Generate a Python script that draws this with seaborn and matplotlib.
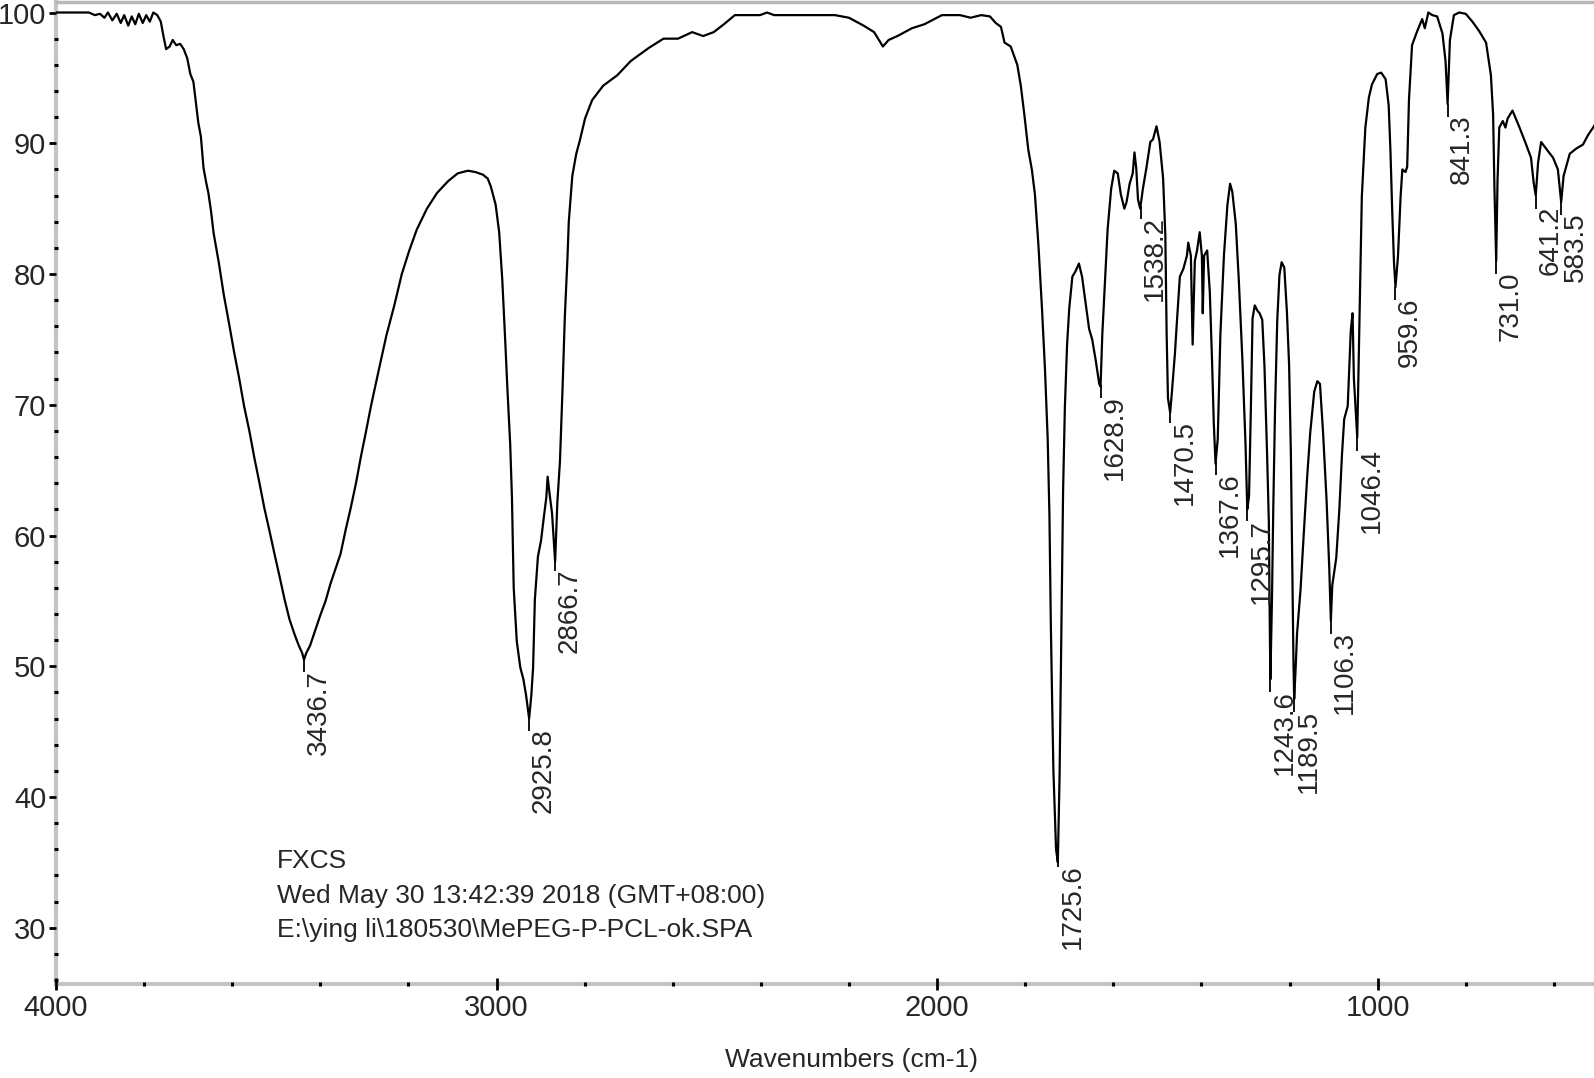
import matplotlib
matplotlib.use("Agg")
import matplotlib.pyplot as plt
import numpy as np
import pandas as pd
import seaborn as sns
from matplotlib.ticker import MultipleLocator

sns.set_style("white")
plt.rcParams["font.family"] = ["Liberation Sans", "DejaVu Sans"]

# spectrum (cm-1, %T)
wavenumbers = [
    4000, 3960, 3925, 3912, 3900, 3890, 3882, 3872, 3862, 3853, 3845, 3836, 3828, 3820,
    3812, 3803, 3795, 3787, 3779, 3770, 3762, 3756, 3750, 3742, 3735, 3727, 3718, 3710,
    3702, 3695, 3688, 3682, 3677, 3671, 3665, 3659, 3654, 3648, 3642, 3630, 3619, 3607,
    3596, 3584, 3573, 3561, 3550, 3538, 3527, 3515, 3504, 3492, 3481, 3470, 3458, 3449,
    3441, 3437, 3432, 3423, 3412, 3400, 3388, 3377, 3365, 3354, 3342, 3331, 3319, 3308,
    3296, 3285, 3267, 3250, 3232, 3215, 3198, 3181, 3158, 3135, 3110, 3088, 3065, 3048,
    3031, 3020, 3013, 3002, 2994, 2987, 2980, 2975, 2969, 2965, 2961, 2954, 2946, 2939,
    2933, 2926, 2921, 2917, 2913, 2906, 2899, 2893, 2887, 2884, 2880, 2874, 2867, 2862,
    2856, 2850, 2845, 2839, 2836, 2828, 2819, 2811, 2799, 2783, 2758, 2726, 2695, 2654,
    2621, 2588, 2556, 2531, 2507, 2484, 2459, 2402, 2386, 2370, 2232, 2200, 2167, 2143,
    2123, 2110, 2090, 2057, 2029, 1989, 1948, 1924, 1900, 1880, 1867, 1855, 1847, 1833,
    1818, 1810, 1802, 1793, 1785, 1778, 1770, 1762, 1755, 1749, 1745, 1742, 1739, 1736,
    1730, 1726, 1722, 1718, 1714, 1710, 1705, 1700, 1693, 1686, 1678, 1671, 1663, 1655,
    1648, 1640, 1632, 1629, 1625, 1619, 1613, 1605, 1598, 1590, 1583, 1575, 1570, 1563,
    1556, 1552, 1548, 1544, 1539, 1533, 1525, 1516, 1510, 1502, 1495, 1487, 1482, 1479,
    1476, 1471, 1467, 1460, 1456, 1449, 1441, 1433, 1430, 1424, 1420, 1415, 1410, 1404,
    1399, 1397, 1394, 1387, 1381, 1376, 1372, 1368, 1363, 1357, 1349, 1341, 1335, 1330,
    1322, 1315, 1307, 1300, 1296, 1292, 1288, 1284, 1279, 1273, 1268, 1262, 1257, 1251,
    1247, 1245, 1243.6, 1240, 1237, 1233, 1228, 1223, 1218, 1212, 1206, 1201, 1197, 1194,
    1191, 1189.5, 1186, 1183, 1175, 1168, 1160, 1153, 1144, 1137, 1131, 1124, 1116, 1110,
    1106.3, 1103, 1094, 1087, 1081, 1076, 1068, 1061, 1057, 1054, 1049, 1046.4, 1043, 1039,
    1036, 1028, 1020, 1013, 1001, 992, 982, 975, 971, 967, 963, 959.6, 954, 948,
    944, 937, 933, 929, 922, 910, 899, 893, 885, 876, 865, 853, 846, 841.3,
    836, 827, 815, 800, 785, 770, 754, 743, 738, 735, 731, 728, 724, 716,
    710, 705, 694, 678, 663, 652, 646, 641.2, 636, 629, 618, 602, 591, 583.5,
    578, 564, 549, 534, 523, 511, 500,
]
transmittance = [
    100.0, 100.0, 100.0, 99.8, 99.9, 99.6, 100.0, 99.4, 99.9, 99.2, 99.8, 99.0, 99.7, 99.1,
    99.9, 99.2, 99.8, 99.3, 100.0, 99.8, 99.3, 98.2, 97.2, 97.4, 97.9, 97.5, 97.6, 97.2,
    96.5, 95.3, 94.7, 93.0, 91.6, 90.5, 88.1, 87.0, 86.2, 84.8, 83.1, 80.8, 78.4, 76.2,
    74.1, 72.0, 69.9, 68.0, 66.0, 64.0, 62.1, 60.3, 58.6, 56.8, 55.1, 53.6, 52.4, 51.6,
    51.0, 50.5, 51.0, 51.6, 52.7, 53.9, 55.0, 56.3, 57.5, 58.6, 60.5, 62.1, 64.0, 66.0,
    68.0, 69.9, 72.7, 75.3, 77.6, 80.0, 81.8, 83.4, 85.0, 86.2, 87.1, 87.7, 87.9, 87.8,
    87.6, 87.3, 86.7, 85.3, 83.2, 79.6, 74.7, 71.0, 67.0, 62.9, 56.0, 51.9, 49.9, 49.0,
    47.8, 46.0, 47.8, 49.9, 55.1, 58.4, 59.6, 61.3, 62.9, 64.5, 63.3, 61.7, 58.0, 62.5,
    65.7, 71.4, 76.7, 81.2, 84.0, 87.5, 89.2, 90.2, 91.9, 93.3, 94.4, 95.2, 96.3, 97.3,
    98.0, 98.0, 98.5, 98.2, 98.5, 99.1, 99.8, 99.8, 100.0, 99.8, 99.8, 99.6, 99.0, 98.5,
    97.4, 97.9, 98.2, 98.8, 99.1, 99.8, 99.8, 99.6, 99.8, 99.7, 99.2, 98.9, 97.7, 97.4,
    96.0, 94.4, 92.2, 89.5, 88.0, 86.1, 82.2, 77.4, 72.6, 67.4, 61.5, 53.5, 47.5, 42.0,
    36.0, 35.0, 41.6, 52.7, 63.5, 69.8, 74.6, 77.4, 79.8, 80.2, 80.8, 79.8, 77.8, 75.8,
    75.0, 73.4, 71.6, 71.4, 75.4, 79.4, 83.4, 86.5, 87.9, 87.7, 86.1, 85.0, 85.5, 86.9,
    87.7, 89.3, 88.1, 85.7, 85.0, 86.5, 88.1, 90.1, 90.3, 91.3, 90.1, 87.3, 83.0, 75.4,
    70.5, 69.4, 71.0, 74.0, 76.2, 79.8, 80.4, 81.4, 82.4, 81.4, 74.6, 81.0, 81.8, 83.2,
    81.4, 77.0, 81.4, 81.8, 78.6, 73.4, 68.6, 65.5, 67.4, 75.4, 81.4, 85.3, 86.9, 86.3,
    83.8, 79.4, 73.4, 67.0, 62.0, 63.0, 69.4, 76.6, 77.6, 77.2, 77.0, 76.5, 73.0, 66.2,
    61.0, 53.5, 49.0, 55.0, 62.0, 69.6, 76.4, 79.9, 80.9, 80.5, 77.1, 73.0, 66.2, 58.0,
    50.0, 47.5, 50.0, 52.5, 55.9, 60.0, 64.5, 67.9, 71.0, 71.8, 71.6, 67.9, 62.7, 57.6,
    53.5, 56.2, 58.3, 62.0, 66.2, 68.9, 69.9, 75.7, 77.0, 72.0, 69.0, 67.5, 73.0, 80.5,
    85.9, 91.2, 93.5, 94.5, 95.3, 95.4, 94.9, 92.9, 89.4, 84.8, 80.9, 79.0, 81.3, 85.9,
    88.0, 87.8, 88.2, 93.3, 97.5, 98.6, 99.5, 98.8, 100.0, 99.8, 99.7, 98.4, 96.3, 93.0,
    97.9, 99.8, 100.0, 99.9, 99.3, 98.6, 97.7, 95.2, 92.2, 86.6, 81.0, 87.1, 91.2, 91.7,
    91.2, 91.9, 92.5, 91.2, 89.9, 88.9, 87.0, 86.0, 88.5, 90.1, 89.6, 88.9, 88.0, 85.5,
    87.5, 89.2, 89.6, 89.9, 90.6, 91.2, 91.8,
]

peak_labels = [
    "3436.7", "2925.8", "2866.7", "1725.6", "1628.9", "1538.2", "1470.5", "1367.6",
    "1295.7", "1243.6", "1189.5", "1106.3", "1046.4", "959.6", "841.3", "731.0",
    "641.2", "583.5",
]

info_lines = [
    "FXCS",
    "Wed May 30 13:42:39 2018 (GMT+08:00)",
    r"E:\ying li\180530\MePEG-P-PCL-ok.SPA",
]

x_ticks = [4000, 3000, 2000, 1000]
y_ticks = [30, 40, 50, 60, 70, 80, 90, 100]


def plot_spectrum():
    df = pd.DataFrame({"wavenumber": wavenumbers, "transmittance": transmittance})

    fig = plt.figure(figsize=(15.94, 10.78), dpi=100)
    ax = fig.add_axes([0.0351, 0.0872, 0.9649, 0.9109])

    sns.lineplot(data=df, x="wavenumber", y="transmittance", color="black",
                 linewidth=1.6, estimator=None, ax=ax)

    ax.set_xlim(4000, 509)
    ax.set_ylim(25.7, 100.8)
    ax.set_xticks(x_ticks)
    ax.set_yticks(y_ticks)
    ax.xaxis.set_minor_locator(MultipleLocator(200))
    ax.yaxis.set_minor_locator(MultipleLocator(2))
    ax.set_xlabel("")
    ax.set_ylabel("")

    # ticks on top of the grey frame so the minor ones show as dots
    ax.set_axisbelow(False)
    ax.xaxis.set_zorder(3)
    ax.yaxis.set_zorder(3)

    ax.tick_params(axis="x", which="major", direction="inout", length=8, width=2,
                   color="black", labelsize=21, pad=3)
    ax.tick_params(axis="y", which="major", direction="out", length=5, width=2,
                   color="black", labelsize=21, pad=2)
    ax.tick_params(which="minor", direction="inout", length=2.2, width=2.2,
                   color="black")
    ax.tick_params(axis="x", which="both", bottom=True)
    ax.tick_params(axis="y", which="both", left=True)

    for side in ["left", "bottom"]:
        ax.spines[side].set_color("#c4c4c4")
        ax.spines[side].set_linewidth(3)
        ax.spines[side].set_zorder(1)
    ax.spines["top"].set_color("#b8b8b8")
    ax.spines["top"].set_linewidth(2.5)
    ax.spines["right"].set_visible(False)

    # peak markers: short leader below each minimum, number rotated underneath
    peak_pos = np.array([float(p) for p in peak_labels])
    peak_t = np.interp(peak_pos, df["wavenumber"][::-1], df["transmittance"][::-1])
    ax.vlines(peak_pos, peak_t - 1.0, peak_t, color="black", linewidth=1.3)
    for lab, w, t in zip(peak_labels, peak_pos, peak_t):
        ax.annotate(lab, xy=(w, t - 0.8), xytext=(1, 0), textcoords="offset points",
                    rotation=90, ha="left", va="top", fontsize=20)

    for i, line in enumerate(info_lines):
        ax.text(0.1434, 0.125 - i * 0.0352, line, transform=ax.transAxes,
                ha="left", va="center", fontsize=19)

    fig.text(0.534, 0.0167, "Wavenumbers (cm-1)", ha="center", va="center",
             fontsize=19)

    fig.savefig("out.png", dpi=100)


if __name__ == "__main__":
    plot_spectrum()
